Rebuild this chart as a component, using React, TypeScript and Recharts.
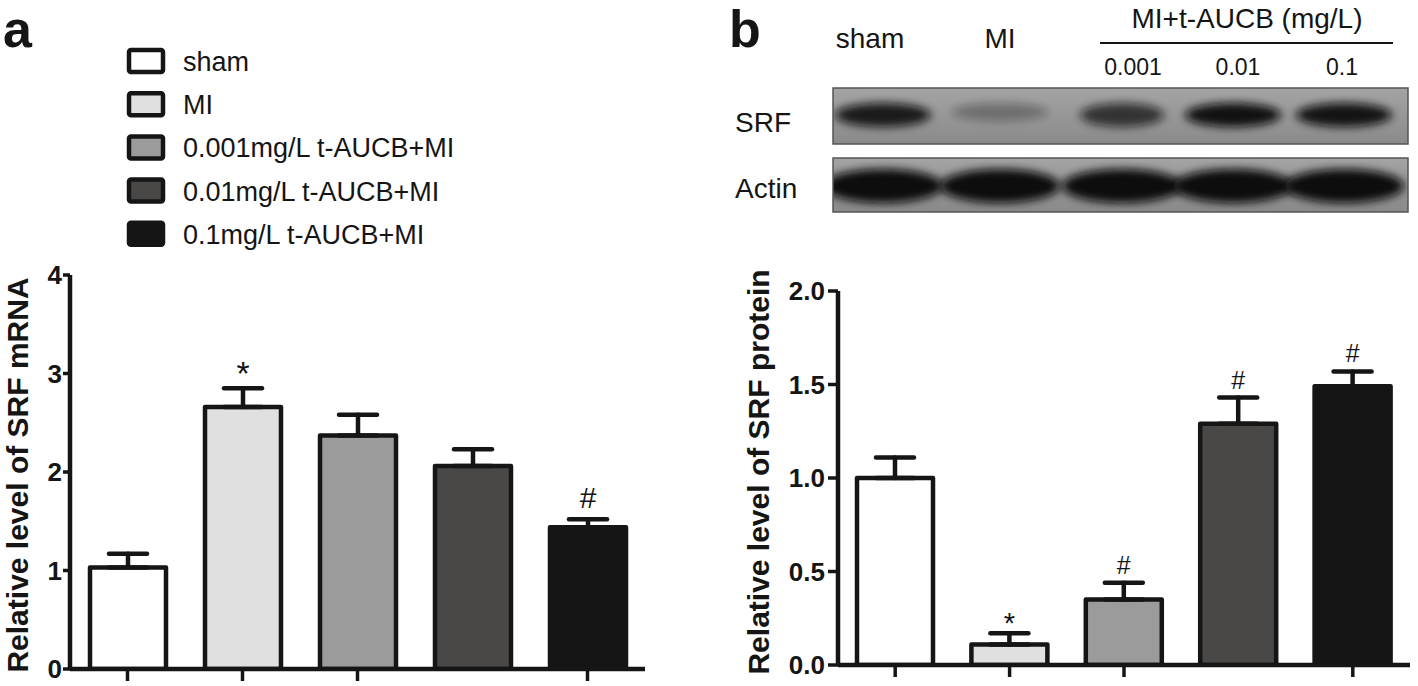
import React from 'react';
import { BarChart, Bar, XAxis, YAxis, ErrorBar, Cell, LabelList, Label } from 'recharts';

const FONT = '"Liberation Sans", Arial, Helvetica, sans-serif';
const INK = '#151515';

// groups shared by both panels
const groups = ['sham', 'MI', '0.001mg/L t-AUCB+MI', '0.01mg/L t-AUCB+MI', '0.1mg/L t-AUCB+MI'];
const groupFills = ['#ffffff', '#e0e0e0', '#9b9b9b', '#4a4747', '#141414'];

// panel a: SRF mRNA
const mrnaMean = [1.03, 2.66, 2.37, 2.06, 1.44];
const mrnaErr = [0.14, 0.19, 0.21, 0.17, 0.08];
const mrnaMark = ['', '*', '', '', '#'];
const mrnaTicks = [0, 1, 2, 3, 4];

// panel b: SRF protein
const proteinMean = [1.0, 0.11, 0.35, 1.29, 1.49];
const proteinErr = [0.11, 0.06, 0.09, 0.14, 0.08];
const proteinMark = ['', '*', '#', '#', '#'];
const proteinTicks = [0, 0.5, 1, 1.5, 2];

// western blot header + band strength
const blotLanes = ['sham', 'MI'];
const blotDoses = ['0.001', '0.01', '0.1'];
const srfBand = [0.9, 0.3, 0.72, 0.97, 0.95];
const actinBand = [1, 1, 1, 1, 1];

function buildRows(means: number[], errs: number[], marks: string[]) {
  return groups.map((g, i) => ({ name: g, mean: means[i], err: errs[i], errs: [0, errs[i]], mark: marks[i] }));
}

const mrnaRows = buildRows(mrnaMean, mrnaErr, mrnaMark);
const proteinRows = buildRows(proteinMean, proteinErr, proteinMark);

function markContent(fontSize: number, offsets: Record<string, number>) {
  return (props: any) => {
    const { value } = props;
    if (!value) return null;
    const vb = props.viewBox ?? props;
    const x = Number(vb.x) + Number(vb.width) / 2;
    const y = Number(vb.y) - (offsets[value] ?? 8);
    return (
      <text x={x} y={y} textAnchor="middle" fontSize={value === '*' ? fontSize + 4 : fontSize} fontFamily={FONT} fill={INK}>
        {value}
      </text>
    );
  };
}

function yTitle(text: string, x: number, y: number, size: number) {
  return () => (
    <text
      x={x}
      y={y}
      transform={`rotate(-90 ${x} ${y})`}
      textAnchor="middle"
      fontSize={size}
      fontWeight="bold"
      fontFamily={FONT}
      fill={INK}
    >
      {text}
    </text>
  );
}

const EmptyTick = () => <g />;

const tickStyle = { fill: INK, fontSize: 26, fontWeight: 'bold', fontFamily: FONT };

function Panel(props: {
  rows: any[];
  width: number;
  margin: any;
  yWidth: number;
  xHeight: number;
  domain: [number, number];
  ticks: number[];
  fmt: (v: number) => string;
  title: string;
  titleX: number;
  titleY: number;
  titleSize: number;
  markSize: number;
  markOffsets: Record<string, number>;
  tickMargin: number;
  yTickSize: number;
}) {
  return (
    <BarChart width={props.width} height={686} data={props.rows} margin={props.margin} style={{ overflow: 'visible' }}>
      <XAxis
        dataKey="name"
        tick={EmptyTick}
        tickSize={12}
        height={props.xHeight}
        axisLine={{ stroke: INK, strokeWidth: 4.5 }}
        tickLine={{ stroke: INK, strokeWidth: 3.5 }}
      />
      <YAxis
        domain={props.domain}
        ticks={props.ticks}
        interval={0}
        allowDataOverflow
        width={props.yWidth}
        tickSize={props.yTickSize}
        tickMargin={props.tickMargin}
        tickFormatter={props.fmt}
        axisLine={{ stroke: INK, strokeWidth: 4.5 }}
        tickLine={{ stroke: INK, strokeWidth: 3.5 }}
        tick={tickStyle}
      >
        <Label content={yTitle(props.title, props.titleX, props.titleY, props.titleSize)} />
      </YAxis>
      <Bar dataKey="mean" stackId="s" barSize={76} stroke={INK} strokeWidth={4.5} strokeLinejoin="round" isAnimationActive={false}>
        {props.rows.map((r, i) => (
          <Cell key={r.name} fill={groupFills[i]} />
        ))}
        <ErrorBar dataKey="errs" direction="y" width={19} stroke={INK} strokeWidth={4.5} strokeLinecap="round" />
      </Bar>
      <Bar dataKey="err" stackId="s" barSize={76} fill="transparent" isAnimationActive={false}>
        <LabelList dataKey="mark" content={markContent(props.markSize, props.markOffsets)} />
      </Bar>
    </BarChart>
  );
}

// lane centres of the blot picture
const laneX = [883, 1000, 1122, 1233, 1344];

function Overlay() {
  const strip = { x: 833, w: 575 };
  const legendY0 = 61;
  const legendStep = 43.2;
  return (
    <svg width={1418} height={686} style={{ position: 'absolute', left: 0, top: 0, pointerEvents: 'none' }}>
      <defs>
        <linearGradient id="blotBg" x1="0" y1="0" x2="0" y2="1">
          <stop offset="0" stopColor="#a4a4a4" />
          <stop offset="1" stopColor="#8a8a8a" />
        </linearGradient>
        <filter id="smear" x="-30%" y="-80%" width="160%" height="260%">
          <feGaussianBlur stdDeviation="5 4" />
        </filter>
        <clipPath id="clipSrf">
          <rect x={strip.x} y={88} width={strip.w} height={56} />
        </clipPath>
        <clipPath id="clipActin">
          <rect x={strip.x} y={158} width={strip.w} height={54} />
        </clipPath>
      </defs>

      <text x={3} y={47} fontSize={52} fontWeight="bold" fontFamily={FONT} fill={INK}>a</text>
      <text x={729} y={47} fontSize={52} fontWeight="bold" fontFamily={FONT} fill={INK}>b</text>

      {groups.map((g, i) => {
        const cy = legendY0 + i * legendStep;
        return (
          <g key={g}>
            <rect x={129} y={cy - 11} width={34} height={22} rx={2} fill={groupFills[i]} stroke={INK} strokeWidth={4.5} />
            <text x={183} y={cy + 10} fontSize={27} fontFamily={FONT} fill={INK}>{g}</text>
          </g>
        );
      })}

      {blotLanes.map((t, i) => (
        <text key={t} x={laneX[i] - (i === 0 ? 13 : 0)} y={48} textAnchor="middle" fontSize={28} fontFamily={FONT} fill={INK}>{t}</text>
      ))}
      <text x={1247} y={28} textAnchor="middle" fontSize={28} fontFamily={FONT} fill={INK}>MI+t-AUCB (mg/L)</text>
      <line x1={1100} y1={43} x2={1393} y2={43} stroke={INK} strokeWidth={2} />
      {blotDoses.map((t, i) => (
        <text key={t} x={[1133, 1238, 1342][i]} y={75} textAnchor="middle" fontSize={23} fontFamily={FONT} fill={INK}>{t}</text>
      ))}

      <text x={735} y={132} fontSize={28} fontFamily={FONT} fill={INK}>SRF</text>
      <text x={735} y={198} fontSize={28} fontFamily={FONT} fill={INK}>Actin</text>

      <g clipPath="url(#clipSrf)">
        <rect x={strip.x} y={88} width={strip.w} height={56} fill="url(#blotBg)" />
        {srfBand.map((v, i) => (
          <ellipse key={i} cx={laneX[i]} cy={i === 1 ? 112 : 115} rx={i === 2 ? 42 : 48} ry={i === 1 ? 9 : 12} fill="#0b0b0b" opacity={v} filter="url(#smear)" />
        ))}
      </g>
      <rect x={strip.x} y={88} width={strip.w} height={56} fill="none" stroke="#555" strokeWidth={1.5} />

      <g clipPath="url(#clipActin)">
        <rect x={strip.x} y={158} width={strip.w} height={54} fill="url(#blotBg)" />
        {actinBand.map((v, i) => (
          <ellipse key={i} cx={laneX[i]} cy={186} rx={60} ry={17} fill="#080808" opacity={v} filter="url(#smear)" />
        ))}
      </g>
      <rect x={strip.x} y={158} width={strip.w} height={54} fill="none" stroke="#555" strokeWidth={1.5} />
    </svg>
  );
}

export default function App() {
  return (
    <div style={{ position: 'absolute', left: 0, top: 0, width: 1418, height: 686, background: '#fff', fontFamily: FONT }}>
      <div style={{ position: 'absolute', left: 0, top: 0 }}>
        <Panel
          rows={mrnaRows}
          width={660}
          margin={{ top: 275, right: 15, bottom: 0, left: 10 }}
          yWidth={60}
          xHeight={17}
          domain={[0, 4]}
          ticks={mrnaTicks}
          fmt={(v) => String(v)}
          title="Relative level of SRF mRNA"
          titleX={28}
          titleY={475}
          titleSize={30}
          markSize={30}
          markOffsets={{ '*': 3, '#': 11 }}
          tickMargin={1}
          yTickSize={7}
        />
      </div>
      <div style={{ position: 'absolute', left: 730, top: 0 }}>
        <Panel
          rows={proteinRows}
          width={688}
          margin={{ top: 291, right: 8, bottom: 0, left: 10 }}
          yWidth={98}
          xHeight={21}
          domain={[0, 2]}
          ticks={proteinTicks}
          fmt={(v) => v.toFixed(1)}
          title="Relative level of SRF protein"
          titleX={39}
          titleY={472}
          titleSize={30}
          markSize={25}
          markOffsets={{ '*': 0, '#': 9 }}
          tickMargin={3}
          yTickSize={10}
        />
      </div>
      <Overlay />
    </div>
  );
}
